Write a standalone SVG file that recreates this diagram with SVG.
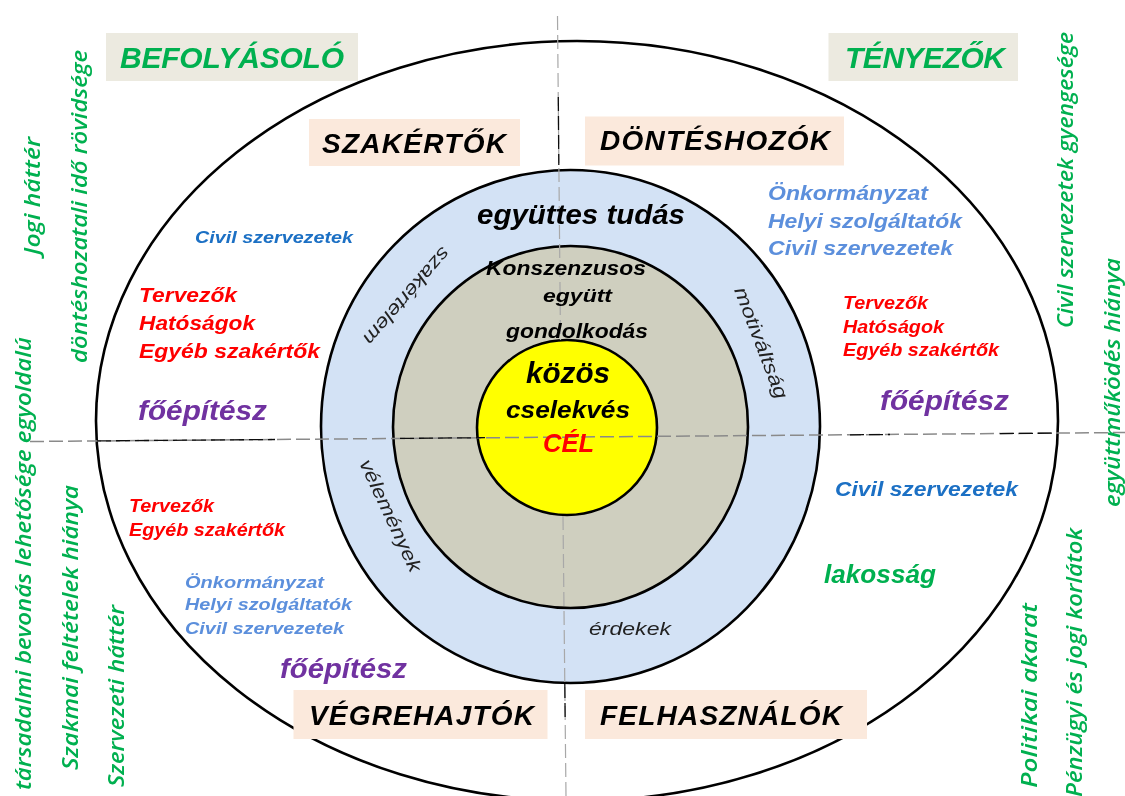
<svg xmlns="http://www.w3.org/2000/svg" width="1125" height="796" viewBox="0 0 1125 796">
<style>
text{font-family:"Liberation Sans",Arial,sans-serif;font-style:italic;font-weight:bold}
.ring{stroke:#000;stroke-width:2.6}
.axis{fill:none;stroke:#8a8a8a;stroke-width:1.5;stroke-dasharray:14 5}
.axis.v{stroke:#a8a8a8;stroke-width:1.2}
.axis.d{stroke:#111;stroke-width:1.3}
.hdr{fill:#eceae0}
.role{fill:#fbe9dc}
.g{fill:#00b050}
.k{fill:#000}
.r{fill:#f00}
.b{fill:#1a6fc4}
.l{fill:#5b8fdc}
.p{fill:#7030a0}
.t{font-weight:normal;fill:#222;font-size:19px}
.s{font-family:"Open Sans","Liberation Sans",sans-serif;font-weight:600;fill:#00b050;font-size:21px}
</style>
<defs><filter id="soft" x="0" y="0" width="100%" height="100%"><feGaussianBlur stdDeviation="0.4"/></filter></defs>
<rect width="1125" height="796" fill="#fff"/>
<g filter="url(#soft)">
<g id="rings">
<ellipse id="outer" class="ring" cx="577" cy="421" rx="481" ry="380" fill="#fff"/>
<ellipse id="blue" class="ring" cx="570.5" cy="426.5" rx="249.5" ry="256.5" fill="#d3e2f5"/>
<ellipse id="beige" class="ring" cx="570.5" cy="427" rx="177.5" ry="181" fill="#cfcfbf"/>
<ellipse id="yellow" class="ring" cx="567" cy="427.5" rx="90" ry="87.5" fill="#ff0"/>
</g>
<g id="connectors">
<line class="axis v" x1="557.5" y1="16" x2="560.5" y2="340"/>
<line class="axis v" x1="563" y1="516" x2="566" y2="796"/>
<line class="axis d" x1="558.3" y1="97" x2="558.8" y2="165"/>
<line class="axis d" x1="564.8" y1="684" x2="565.2" y2="722"/>
<line class="axis" x1="30" y1="441.5" x2="1125" y2="432.5"/>
<line class="axis d" x1="97" y1="440.9" x2="275" y2="439.5"/>
<line class="axis d" x1="400" y1="438.4" x2="485" y2="437.7"/>
<line class="axis d" x1="850" y1="434.8" x2="890" y2="434.5"/>
<line class="axis d" x1="1000" y1="433.6" x2="1055" y2="433.1"/>
</g>
<g id="befolyasolo"><rect class="hdr" x="106" y="33" width="252" height="48"/><text class="g" x="120" y="68" font-size="30" textLength="224">BEFOLYÁSOLÓ</text></g>
<g id="tenyezok"><rect class="hdr" x="828.5" y="33" width="189.5" height="48"/><text class="g" x="845" y="68" font-size="30" textLength="160">TÉNYEZŐK</text></g>
<g id="szakertok"><rect class="role" x="309" y="119" width="211" height="47"/><text class="k" x="322" y="153" font-size="28" textLength="184">SZAKÉRTŐK</text></g>
<g id="donteshozok"><rect class="role" x="585" y="116.5" width="259" height="49"/><text class="k" x="600" y="150" font-size="28" textLength="230">DÖNTÉSHOZÓK</text></g>
<g id="vegrehajtok"><rect class="role" x="293.5" y="690" width="254" height="49"/><text class="k" x="309" y="725" font-size="28" textLength="225">VÉGREHAJTÓK</text></g>
<g id="felhasznalok"><rect class="role" x="585" y="690" width="282" height="49"/><text class="k" x="600" y="725" font-size="28" textLength="242">FELHASZNÁLÓK</text></g>
<g id="center">
<text class="k" x="477" y="224" font-size="28" textLength="208" lengthAdjust="spacingAndGlyphs">együttes tudás</text>
<text class="k" x="486" y="275" font-size="21" textLength="160" lengthAdjust="spacingAndGlyphs">Konszenzusos</text>
<text class="k" x="543" y="302" font-size="19" textLength="69" lengthAdjust="spacingAndGlyphs">együtt</text>
<text class="k" x="506" y="338" font-size="21" textLength="142" lengthAdjust="spacingAndGlyphs">gondolkodás</text>
<text class="k" x="526" y="383" font-size="29" textLength="84" lengthAdjust="spacingAndGlyphs">közös</text>
<text class="k" x="506" y="418" font-size="24" textLength="124" lengthAdjust="spacingAndGlyphs">cselekvés</text>
<text class="r" x="543" y="452" font-size="25" textLength="51" lengthAdjust="spacingAndGlyphs">CÉL</text>
</g>
<g id="ring-labels">
<text class="t" transform="translate(442 246) rotate(131)" textLength="122" lengthAdjust="spacingAndGlyphs">szakértelem</text>
<text class="t" transform="translate(734 290) rotate(69)" textLength="118" lengthAdjust="spacingAndGlyphs">motiváltság</text>
<text class="t" transform="translate(359 463) rotate(65)" textLength="122" lengthAdjust="spacingAndGlyphs">vélemények</text>
<text class="t" x="589" y="635" textLength="82" lengthAdjust="spacingAndGlyphs">érdekek</text>
</g>
<g id="top-left-actors">
<text class="b" x="195" y="243" font-size="17" textLength="158" lengthAdjust="spacingAndGlyphs">Civil szervezetek</text>
<text class="r" x="139" y="302" font-size="20" textLength="98" lengthAdjust="spacingAndGlyphs">Tervezők</text>
<text class="r" x="139" y="330" font-size="20" textLength="116" lengthAdjust="spacingAndGlyphs">Hatóságok</text>
<text class="r" x="139" y="358" font-size="20" textLength="181" lengthAdjust="spacingAndGlyphs">Egyéb szakértők</text>
<text class="p" x="138" y="420" font-size="27" textLength="129" lengthAdjust="spacingAndGlyphs">főépítész</text>
</g>
<g id="top-right-actors">
<text class="l" x="768" y="200" font-size="20" textLength="160" lengthAdjust="spacingAndGlyphs">Önkormányzat</text>
<text class="l" x="768" y="228" font-size="20" textLength="194" lengthAdjust="spacingAndGlyphs">Helyi szolgáltatók</text>
<text class="l" x="768" y="255" font-size="20" textLength="185" lengthAdjust="spacingAndGlyphs">Civil szervezetek</text>
<text class="r" x="843" y="309" font-size="18" textLength="85" lengthAdjust="spacingAndGlyphs">Tervezők</text>
<text class="r" x="843" y="333" font-size="18" textLength="101" lengthAdjust="spacingAndGlyphs">Hatóságok</text>
<text class="r" x="843" y="356" font-size="18" textLength="156" lengthAdjust="spacingAndGlyphs">Egyéb szakértők</text>
<text class="p" x="880" y="410" font-size="27" textLength="129" lengthAdjust="spacingAndGlyphs">főépítész</text>
</g>
<g id="bottom-left-actors">
<text class="r" x="129" y="512" font-size="18" textLength="85" lengthAdjust="spacingAndGlyphs">Tervezők</text>
<text class="r" x="129" y="536" font-size="18" textLength="156" lengthAdjust="spacingAndGlyphs">Egyéb szakértők</text>
<text class="l" x="185" y="588" font-size="17" textLength="139" lengthAdjust="spacingAndGlyphs">Önkormányzat</text>
<text class="l" x="185" y="610" font-size="17" textLength="167" lengthAdjust="spacingAndGlyphs">Helyi szolgáltatók</text>
<text class="l" x="185" y="634" font-size="17" textLength="159" lengthAdjust="spacingAndGlyphs">Civil szervezetek</text>
<text class="p" x="280" y="678" font-size="27" textLength="127" lengthAdjust="spacingAndGlyphs">főépítész</text>
</g>
<g id="bottom-right-actors">
<text class="b" x="835" y="496" font-size="20" textLength="183" lengthAdjust="spacingAndGlyphs">Civil szervezetek</text>
<text class="g" x="824" y="583" font-size="26" textLength="112" lengthAdjust="spacingAndGlyphs">lakosság</text>
</g>
<g id="side-factors">
<text class="s" transform="translate(40 255) rotate(-90)" textLength="118" lengthAdjust="spacingAndGlyphs">Jogi háttér</text>
<text class="s" transform="translate(87 363) rotate(-90)" textLength="313" lengthAdjust="spacingAndGlyphs">döntéshozatali idő rövidsége</text>
<text class="s" transform="translate(31 790) rotate(-90)" textLength="453" lengthAdjust="spacingAndGlyphs">társadalmi bevonás lehetősége egyoldalú</text>
<text class="s" transform="translate(78 770) rotate(-90)" textLength="285" lengthAdjust="spacingAndGlyphs">Szakmai  feltételek hiánya</text>
<text class="s" transform="translate(124 787) rotate(-90)" textLength="182" lengthAdjust="spacingAndGlyphs">Szervezeti háttér</text>
<text class="s" transform="translate(1073 328) rotate(-90)" textLength="296" lengthAdjust="spacingAndGlyphs">Civil szervezetek gyengesége</text>
<text class="s" transform="translate(1120 507) rotate(-90)" textLength="249" lengthAdjust="spacingAndGlyphs">együttműködés hiánya</text>
<text class="s" transform="translate(1037 788) rotate(-90)" textLength="185" lengthAdjust="spacingAndGlyphs">Politikai akarat</text>
<text class="s" transform="translate(1082 797) rotate(-90)" textLength="269" lengthAdjust="spacingAndGlyphs">Pénzügyi és jogi korlátok</text>
</g>
</g>
</svg>
